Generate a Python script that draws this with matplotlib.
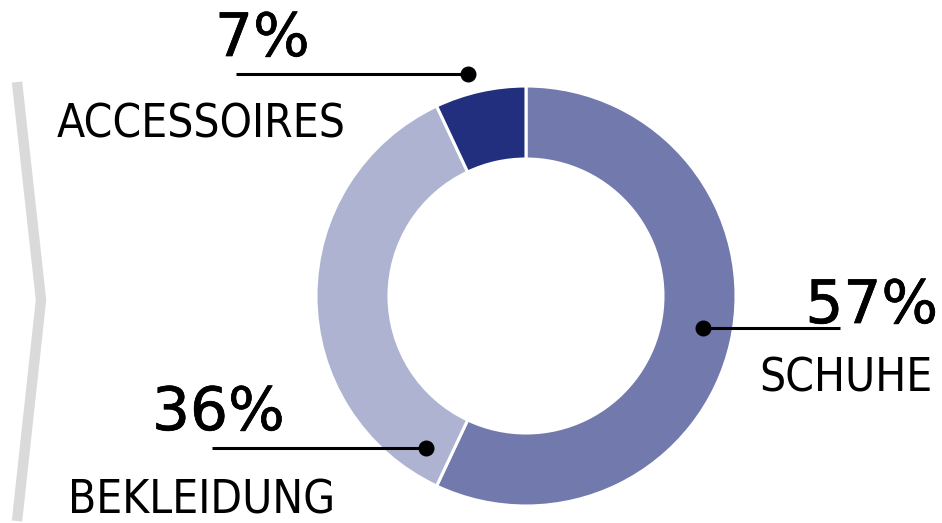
import matplotlib
matplotlib.use("Agg")
import matplotlib.pyplot as plt
import matplotlib.patheffects as pe

# Data
categories = ["SCHUHE", "BEKLEIDUNG", "ACCESSOIRES"]
shares = [57, 36, 7]
pct_labels = ["57%", "36%", "7%"]
colors = ["#7279ad", "#aeb3d1", "#222e7e"]

W, H = 942, 523
fig = plt.figure(figsize=(W / 100, H / 100), dpi=100)
ax = fig.add_axes([0, 0, 1, 1])

def Y(y):
    return H - y

# donut
cx, cy, R, r_in = 526, 296, 210, 137
ax.pie(shares, colors=colors, startangle=90, counterclock=False,
       radius=R, center=(cx, Y(cy)),
       wedgeprops=dict(width=R - r_in, edgecolor="white", linewidth=2.2))

# grey chevron on the left
ax.plot([17, 41, 17], [Y(82), Y(300), Y(521)], color="#dadada", lw=7.5,
        solid_joinstyle="miter", solid_capstyle="butt", zorder=1)

pct_font = dict(family=["DejaVu Sans"], fontsize=43, color="black",
                path_effects=[pe.withStroke(linewidth=0.5, foreground="black")])
lab_font = dict(family=["DejaVu Sans Condensed", "DejaVu Sans"],
                fontstretch="condensed", fontsize=33, color="black")

# leader lines: (dot x, dot y, line end x)
leaders = {
    "SCHUHE": (703, 328, 840),
    "BEKLEIDUNG": (426, 448, 212),
    "ACCESSOIRES": (468, 74, 236),
}
# text anchors: (pct x, pct baseline, pct ha, label x, label baseline, ha)
anchors = {
    "SCHUHE": (938, 323, "right", 932, 392, "right"),
    "BEKLEIDUNG": (152, 430, "left", 68, 514, "left"),
    "ACCESSOIRES": (215, 56, "left", 57, 137, "left"),
}

for cat, pct in zip(categories, pct_labels):
    dx, dy, ex = leaders[cat]
    ax.plot([dx, ex], [Y(dy), Y(dy)], color="black", lw=2.2, zorder=3,
            solid_capstyle="butt")
    ax.plot([dx], [Y(dy)], "o", color="black", ms=10.5, zorder=4)
    px, pb, pha, lx, lb, lha = anchors[cat]
    ax.text(px, Y(pb), pct, ha=pha, va="baseline", **pct_font)
    ax.text(lx, Y(lb), cat, ha=lha, va="baseline", **lab_font)

ax.set_xlim(0, W)
ax.set_ylim(0, H)
ax.set_aspect("equal")
ax.axis("off")
fig.savefig("out.png", dpi=100, facecolor="white")
